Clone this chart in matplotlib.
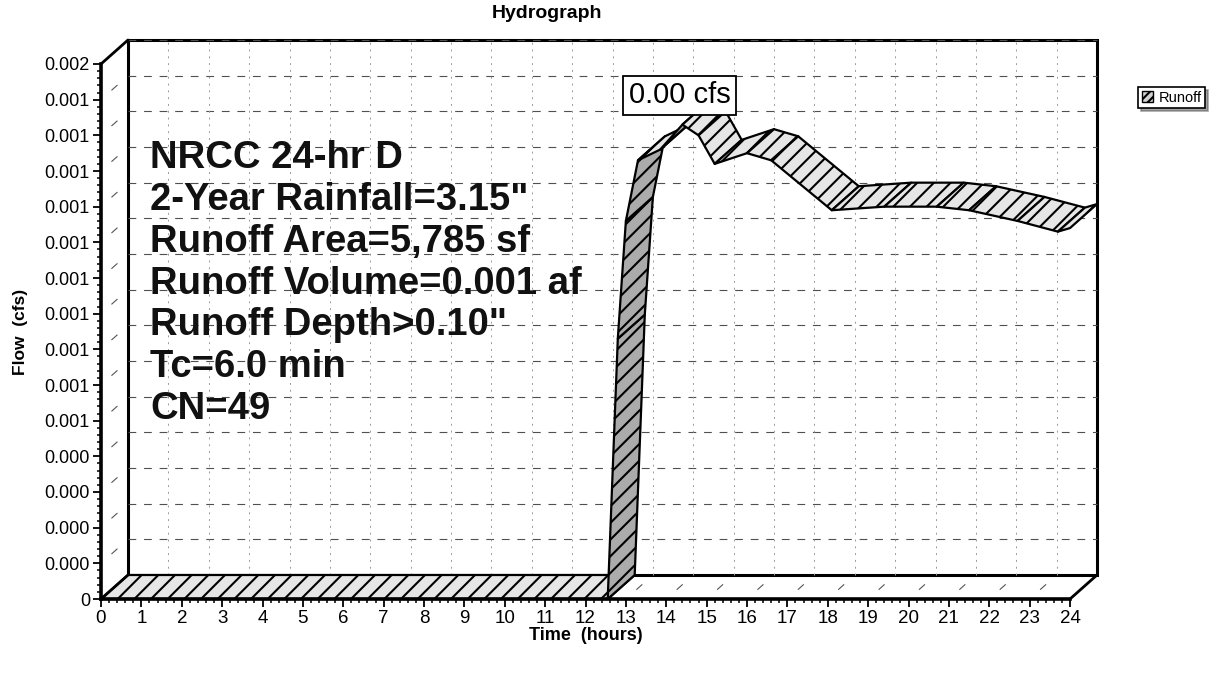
import numpy as np
import matplotlib
matplotlib.use("Agg")
import matplotlib.pyplot as plt
from matplotlib.patches import Polygon, Patch, Rectangle
from matplotlib.ticker import FixedLocator, AutoMinorLocator
from matplotlib.transforms import ScaledTranslation

plt.rcParams['font.family'] = ['Liberation Sans', 'DejaVu Sans']
plt.rcParams['hatch.linewidth'] = 1.5

# ---------------- data ----------------
time_hr = [0, 12.55, 12.8, 13.0, 13.3, 13.85, 14.4, 14.8, 15.2, 16.0, 16.6,
           18.1, 19.4, 20.7, 21.5, 22.7, 23.7, 24.0]
flow_cfs = [0, 0, 0.00073, 0.00106, 0.00123, 0.00126, 0.00133, 0.00130,
            0.00122, 0.00125, 0.00123, 0.00109, 0.00110, 0.00110, 0.00109,
            0.00106, 0.00103, 0.00104]

y_ticks = [0, 0.0001, 0.0002, 0.0003, 0.0004, 0.0005, 0.0006, 0.0007,
           0.0008, 0.0009, 0.0010, 0.0011, 0.0012, 0.0013, 0.0014, 0.0015]
y_tick_labels = ["0", "0.000", "0.000", "0.000", "0.000", "0.001", "0.001",
                 "0.001", "0.001", "0.001", "0.001", "0.001", "0.001", "0.001",
                 "0.001", "0.002"]
x_ticks = list(range(0, 25))
x_tick_labels = [str(v) for v in x_ticks]

info_lines = ["NRCC 24-hr D", '2-Year Rainfall=3.15"', "Runoff Area=5,785 sf",
              "Runoff Volume=0.001 af", 'Runoff Depth>0.10"', "Tc=6.0 min",
              "CN=49"]
peak_label = "0.00 cfs"
series_name = "Runoff"
title = "Hydrograph"
x_label = "Time  (hours)"
y_label = "Flow  (cfs)"

# ---------------- figure ----------------
W, H = 1220, 677
fig = plt.figure(figsize=(W / 100, H / 100), dpi=100)
fig.patch.set_facecolor("white")
ax = fig.add_axes([101 / W, 78 / H, 969 / W, 535 / H])
ax.set_xlim(0, 24)
ax.set_ylim(0, 0.0015)
ax.patch.set_visible(False)

DX, DY = 27, 24  # depth offset in pixels
shift = ScaledTranslation(DX / 100, DY / 100, fig.dpi_scale_trans)
back_data = ax.transData + shift
back_axes = ax.transAxes + shift


def to_back(x, y):
    pts = back_data.transform(np.column_stack([np.atleast_1d(x), np.atleast_1d(y)]))
    return ax.transData.inverted().transform(pts)


# back wall
ax.add_patch(Rectangle((0, 0), 1, 1, transform=back_axes, facecolor="white",
                       edgecolor="black", lw=2.2, zorder=0.5, clip_on=False))
for yv in y_ticks[1:]:
    ax.plot([0, 24], [yv, yv], transform=back_data, color="#505050", lw=0.8,
            ls=(0, (7, 7)), zorder=0.6, clip_on=False)
for xv in x_ticks[1:-1]:
    ax.plot([xv, xv], [0, 0.0015], transform=back_data, color="#9a9a9a", lw=0.7,
            ls=(0, (2, 5)), zorder=0.6, clip_on=False)

# floor and side wall
xmin, xmax = 0, 24
ymin, ymax = 0, 0.0015
for (fx, fy) in [(xmin, ymax), (xmin, ymin), (xmax, ymin)]:
    b = to_back(fx, fy)[0]
    ax.plot([fx, b[0]], [fy, b[1]], color="black", lw=2.0, zorder=3,
            clip_on=False, solid_capstyle="round")
diag_style = (44.6, (7.2, 50))
for yv in y_ticks[1:-1]:
    b = to_back(xmin, yv)[0]
    ax.plot([xmin, b[0]], [yv, b[1]], color="#555555", lw=0.8,
            ls=diag_style, zorder=0.7, clip_on=False)
for xv in x_ticks[1:-1]:
    b = to_back(xv, ymin)[0]
    ax.plot([xv, b[0]], [ymin, b[1]], color="#555555", lw=0.8,
            ls=diag_style, zorder=0.7, clip_on=False)

# ribbon
t = np.array(time_hr)
q = np.array(flow_cfs)
back_pts = to_back(t, q)
for i in range(len(t) - 1):
    verts = np.array([[t[i], q[i]], [t[i + 1], q[i + 1]],
                      back_pts[i + 1], back_pts[i]])
    disp = ax.transData.transform(verts)
    xs, ys = disp[:, 0], disp[:, 1]
    area = 0.5 * np.sum(xs * np.roll(ys, -1) - np.roll(xs, -1) * ys)
    fc = "#e6e6e6" if area >= 0 else "#ababab"
    ax.add_patch(Polygon(verts, closed=True, facecolor=fc, edgecolor="black",
                         lw=1.6, hatch="//", zorder=2 + i * 0.01,
                         clip_on=False, joinstyle="round"))

# info text
for k, line in enumerate(info_lines):
    ax.text(0.0506, 0.824 - k * 0.0781, line, transform=ax.transAxes,
            fontsize=27.5, fontweight="bold", ha="left", va="center",
            color="#111111", zorder=4)

# peak label
ipk = int(np.argmax(q))
ax.annotate(peak_label, xy=(t[ipk], q[ipk]), xytext=(-2, 21),
            textcoords="offset points", ha="center", va="center",
            fontsize=21, zorder=6,
            bbox=dict(boxstyle="square,pad=0.18", facecolor="white",
                      edgecolor="black", lw=1.3))

# axes styling
for s in ["top", "right"]:
    ax.spines[s].set_visible(False)
for s in ["left", "bottom"]:
    ax.spines[s].set_linewidth(2.6)
    ax.spines[s].set_zorder(3)
ax.xaxis.set_major_locator(FixedLocator(x_ticks))
ax.set_xticklabels(x_tick_labels)
ax.yaxis.set_major_locator(FixedLocator(y_ticks))
ax.set_yticklabels(y_tick_labels)
ax.xaxis.set_minor_locator(AutoMinorLocator(5))
ax.yaxis.set_minor_locator(AutoMinorLocator(5))
ax.tick_params(axis="both", which="major", direction="out", length=6,
               width=1.3, color="black")
ax.tick_params(axis="both", which="minor", direction="out", length=3,
               width=1.1, color="black")
ax.tick_params(axis="x", labelsize=13.5, pad=2)
ax.tick_params(axis="y", labelsize=13, pad=2)

ax.set_xlabel(x_label, fontsize=13, fontweight="bold", labelpad=0)
ax.set_ylabel(y_label, fontsize=12.5, fontweight="bold", labelpad=12)
fig.text(547 / W, 1 - 5 / H, title, fontsize=14, fontweight="bold",
         ha="center", va="top")

# legend
leg = fig.legend(handles=[Patch(facecolor="#d0d0d0", edgecolor="black",
                                hatch="////", label=series_name)],
                 loc="upper left", bbox_to_anchor=(1138 / W, 1 - 87 / H),
                 fontsize=10.5, frameon=True, fancybox=False, shadow=True,
                 handlelength=0.8, handleheight=0.8, handletextpad=0.35,
                 borderpad=0.25, borderaxespad=0)
leg.get_frame().set_edgecolor("black")
leg.get_frame().set_linewidth(1.2)

fig.savefig("out.png", dpi=100, facecolor="white")
